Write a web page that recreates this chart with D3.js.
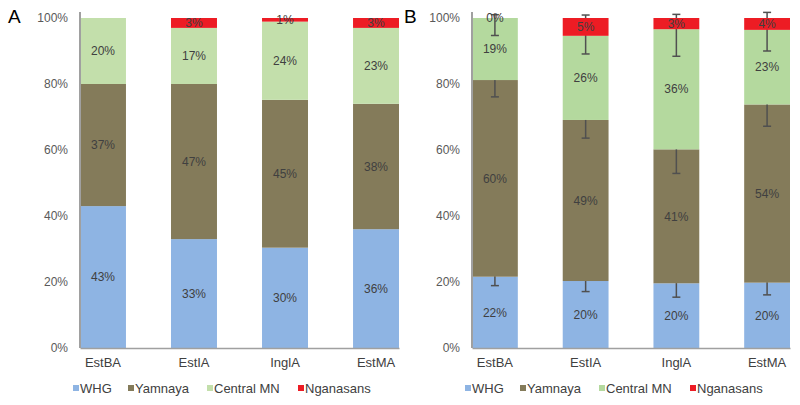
<!DOCTYPE html>
<html><head><meta charset="utf-8">
<script src="https://cdn.jsdelivr.net/npm/d3@7/dist/d3.min.js"></script>
<style>body{margin:0;background:#fff}svg{display:block;font-family:"Liberation Sans",Arial,sans-serif}</style>
</head><body>
<svg id="c" width="800" height="405"></svg>
<script>
const categories = ["EstBA", "EstIA", "InglA", "EstMA"];
const seriesNames = ["WHG", "Yamnaya", "Central MN", "Nganasans"];
const yTicks = [0, 20, 40, 60, 80, 100];

// Panel A
const aWHG = [43, 33, 30.4, 36];
const aYamnaya = [37, 47, 44.8, 38];
const aCentralMN = [20, 17, 23.7, 23];
const aNganasans = [null, 3, 1.1, 3];

// Panel B
const bWHG = [21.6, 20.3, 19.6, 19.8];
const bYamnaya = [59.6, 48.8, 40.6, 54];
const bCentralMN = [18.8, 25.5, 36.4, 22.6];
const bNganasans = [0, 5.4, 3.4, 3.6];
// error bars (percentage points)
const bErrWHG = [2.7, 3.2, 4.2, 3.7];
const bErrYamnaya = [5.1, 5.5, 7.3, 6.6];
const bErrCentralMNLow = [5.3, 5.5, 8.2, 6.4];
const bErrCentralMNHigh = [1.0, 6.3, 4.5, 5.3];

const colorsA = ["#8eb4e3", "#847b5a", "#c3dfab", "#ed1c24"];
const colorsB = ["#8eb4e3", "#847b5a", "#b4d99e", "#ed1c24"];

const svg = d3.select("#c");

function panel(opts) {
  const g = svg.append("g");
  const x = d3.scaleBand().domain(categories).range([opts.x0, opts.x1]).paddingInner(0.495).paddingOuter(0);
  const y = d3.scaleLinear().domain([0, 100]).range([348, 18]);
  const series = opts.series;
  const errs = opts.errs || [];
  const cum = categories.map(() => 0);
  const labels = [];
  series.forEach((vals, si) => {
    const segs = categories.map((c, ci) => {
      const v = vals[ci];
      const b = cum[ci];
      const t = b + (v || 0);
      cum[ci] = t;
      return {c, v, b, t};
    });
    g.append("g").selectAll("rect").data(segs.filter(d => d.v !== null)).join("rect")
      .attr("x", d => x(d.c)).attr("width", x.bandwidth())
      .attr("y", d => y(d.t)).attr("height", d => y(d.b) - y(d.t))
      .attr("fill", opts.colors[si]);
    const e = errs[si];
    if (e) {
      const eg = g.append("g").attr("stroke", "#505050").attr("stroke-width", 1.5);
      segs.forEach((d, ci) => {
        const cx = x(d.c) + x.bandwidth() / 2;
        const lo = y(d.t - e.low[ci]), hi = y(d.t + e.high[ci]);
        eg.append("line").attr("x1", cx).attr("x2", cx).attr("y1", hi).attr("y2", lo);
        eg.append("line").attr("x1", cx - 4).attr("x2", cx + 4).attr("y1", lo).attr("y2", lo);
        eg.append("line").attr("x1", cx - 4).attr("x2", cx + 4).attr("y1", hi).attr("y2", hi);
      });
    }
    segs.forEach(d => { if (d.v !== null) labels.push(d); });
  });
  g.append("g").selectAll("text").data(labels).join("text")
    .attr("x", d => x(d.c) + x.bandwidth() / 2)
    .attr("y", d => y((d.b + d.t) / 2))
    .attr("dy", "0.35em").attr("text-anchor", "middle")
    .attr("font-size", 12).attr("fill", "#404040")
    .text(d => Math.round(d.v) + "%");
  // axes
  const yAxis = d3.axisLeft(y).tickValues(yTicks).tickSize(0).tickPadding(12).tickFormat(d => d + "%");
  const ya = g.append("g").attr("transform", `translate(${opts.x0},0)`).call(yAxis);
  ya.select(".domain").remove();
  ya.selectAll("text").attr("font-size", 12).attr("fill", "#595959").attr("font-family", "Liberation Sans, Arial, sans-serif");
  g.append("line").attr("x1", opts.x0).attr("x2", opts.x0).attr("y1", 12).attr("y2", 348)
    .attr("stroke", "#a0a0a0").attr("stroke-width", 2);
  const xAxis = d3.axisBottom(x).tickSize(0).tickPadding(10);
  const xa = g.append("g").attr("transform", "translate(0,348)").call(xAxis);
  xa.select(".domain").attr("stroke", "#a0a0a0").attr("stroke-width", 1.5);
  xa.selectAll("text").attr("font-size", 13).attr("fill", "#404040").attr("font-family", "Liberation Sans, Arial, sans-serif");
  // panel letter
  g.append("text").attr("x", opts.letterX).attr("y", 23).attr("font-size", 19).attr("fill", "#000").text(opts.letter);
  // legend
  const offs = [-7, 48, 127, 218];
  const lg = g.append("g").attr("transform", `translate(${opts.x0},388)`);
  seriesNames.forEach((n, i) => {
    lg.append("rect").attr("x", offs[i]).attr("y", -3).attr("width", 6).attr("height", 6).attr("fill", opts.colors[i]);
    lg.append("text").attr("x", offs[i] + 7).attr("y", 0).attr("dy", "0.35em")
      .attr("font-size", 13).attr("fill", "#404040").text(n);
  });
}

panel({x0: 80, x1: 399, letter: "A", letterX: 8, colors: colorsA,
  series: [aWHG, aYamnaya, aCentralMN, aNganasans]});
panel({x0: 472, x1: 790, letter: "B", letterX: 404, colors: colorsB,
  series: [bWHG, bYamnaya, bCentralMN, bNganasans],
  errs: [{low: bErrWHG, high: bErrWHG}, {low: bErrYamnaya, high: bErrYamnaya},
         {low: bErrCentralMNLow, high: bErrCentralMNHigh}, null]});
</script>
</body></html>
